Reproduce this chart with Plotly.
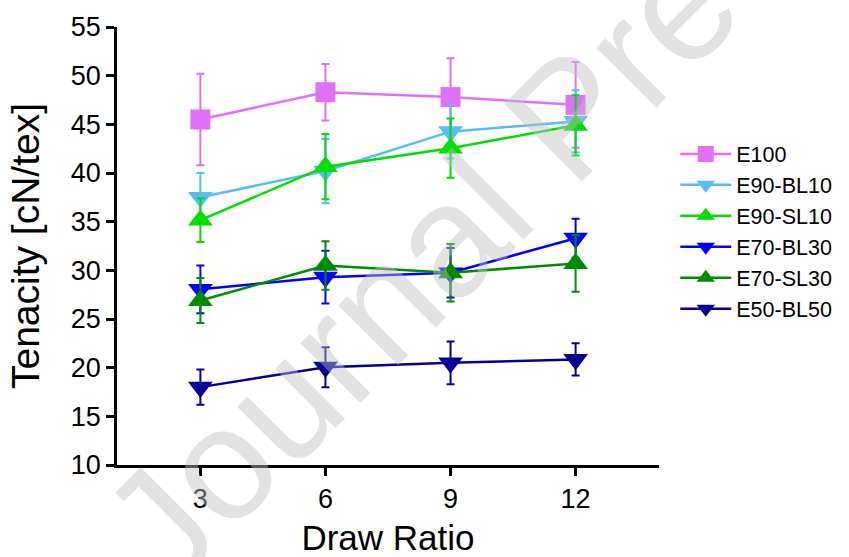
import plotly.graph_objects as go

draw_ratio = [3, 6, 9, 12]

series_names = ["E100", "E90-BL10", "E90-SL10", "E70-BL30", "E70-SL30", "E50-BL50"]

e100 = [45.5, 48.3, 47.8, 47.0]
e100_err = [4.7, 2.9, 4.0, 4.4]
e90_bl10 = [37.5, 40.2, 44.25, 45.3]
e90_bl10_err = [2.5, 3.3, 2.75, 3.2]
e90_sl10 = [35.15, 40.65, 42.55, 44.9]
e90_sl10_err = [2.25, 3.35, 3.05, 3.1]
e70_bl30 = [28.05, 29.3, 29.75, 33.3]
e70_bl30_err = [2.45, 2.7, 2.55, 2.0]
e70_sl30 = [26.9, 30.5, 29.75, 30.7]
e70_sl30_err = [2.3, 2.5, 2.95, 2.9]
e50_bl50 = [18.0, 20.05, 20.5, 20.85]
e50_bl50_err = [1.8, 2.05, 2.2, 1.65]

values = [e100, e90_bl10, e90_sl10, e70_bl30, e70_sl30, e50_bl50]
errors = [e100_err, e90_bl10_err, e90_sl10_err, e70_bl30_err, e70_sl30_err, e50_bl50_err]
colors = ["#E070F8", "#55BDF7", "#00DD00", "#0000FF", "#008C00", "#000099"]
symbols = ["square", "triangle-down", "triangle-up", "triangle-down", "triangle-up", "triangle-down"]
sizes = [20, 21.5, 21.5, 21.5, 21.5, 21.5]

fig = go.Figure()
for name, y, err, c, s, sz in zip(series_names, values, errors, colors, symbols, sizes):
    fig.add_trace(go.Scatter(
        x=draw_ratio, y=y, name=name, mode="lines+markers",
        line=dict(color=c, width=2.5),
        marker=dict(symbol=s, size=sz, color=c, line=dict(width=0)),
        error_y=dict(type="data", array=err, visible=True, color=c, thickness=2, width=4),
        cliponaxis=False,
    ))

font_family = "Liberation Sans, Arial, sans-serif"

fig.update_layout(
    width=849, height=557,
    margin=dict(l=117, r=188, t=27, b=92),
    paper_bgcolor="white", plot_bgcolor="white",
    font=dict(family=font_family, color="black"),
    showlegend=True,
    legend=dict(
        x=1.030, y=0.757, xanchor="left", yanchor="top",
        font=dict(size=21.5, family=font_family, color="black"),
        bgcolor="rgba(0,0,0,0)", itemwidth=51, tracegroupgap=0,
    ),
    xaxis=dict(
        range=[1, 14], tickvals=draw_ratio, ticktext=[str(v) for v in draw_ratio],
        showgrid=False, zeroline=False, showline=True, linecolor="black", linewidth=2.5,
        ticks="outside", ticklen=8, tickwidth=2.5, tickcolor="black",
        tickfont=dict(size=27, family=font_family), automargin=False,
        title=dict(text="Draw Ratio", font=dict(size=35, family=font_family), standoff=22),
    ),
    yaxis=dict(
        range=[10, 55], tickvals=list(range(10, 56, 5)),
        showgrid=False, zeroline=False, showline=True, linecolor="black", linewidth=2.5,
        ticks="outside", ticklen=8, tickwidth=2.5, tickcolor="black",
        tickfont=dict(size=27, family=font_family), automargin=False,
        title=dict(text="Tenacity [cN/tex]", font=dict(size=39, family=font_family), standoff=20),
    ),
)

fig.add_annotation(
    text="Journal Pre-proof", xref="paper", yref="paper",
    x=0.833, y=0.795, xanchor="center", yanchor="middle",
    textangle=-45, showarrow=False,
    font=dict(size=160, family=font_family, color="rgba(190,190,190,0.45)"),
)

fig.write_html("out.html")
